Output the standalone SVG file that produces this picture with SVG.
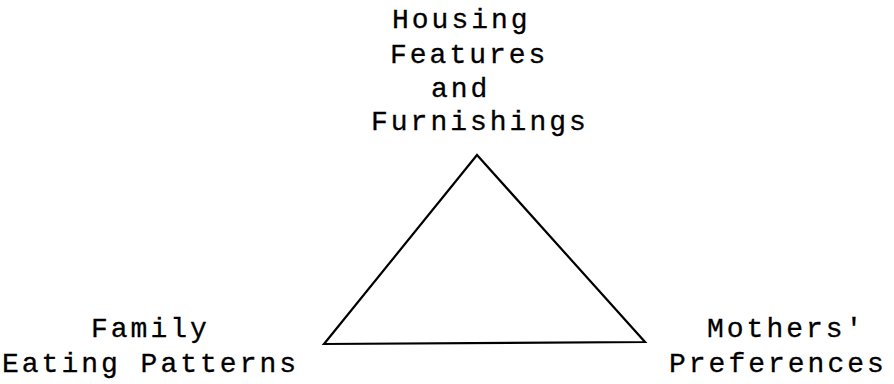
<svg xmlns="http://www.w3.org/2000/svg" width="894" height="384" viewBox="0 0 894 384">
<style>
.t{font-family:"Liberation Mono","Courier New",monospace;font-size:28px;letter-spacing:3px;fill:#000;stroke:#000;stroke-width:0.3}
.edge{fill:none;stroke:#000;stroke-width:2.2;stroke-linejoin:miter}
</style>
<rect width="894" height="384" fill="#fff"/>
<g id="connectors">
<path class="edge" d="M324,344 L477,155 L645,342 Z"/>
</g>
<g id="node-housing">
<text class="t" x="392" y="28">Housing</text>
<text class="t" x="390" y="63">Features</text>
<text class="t" x="431" y="97">and</text>
<text class="t" x="371" y="130">Furnishings</text>
</g>
<g id="node-family">
<text class="t" x="91" y="337">Family</text>
<text class="t" x="2" y="372">Eating Patterns</text>
</g>
<g id="node-mothers">
<text class="t" x="707" y="337">Mothers'</text>
<text class="t" x="669" y="372">Preferences</text>
</g>
</svg>
